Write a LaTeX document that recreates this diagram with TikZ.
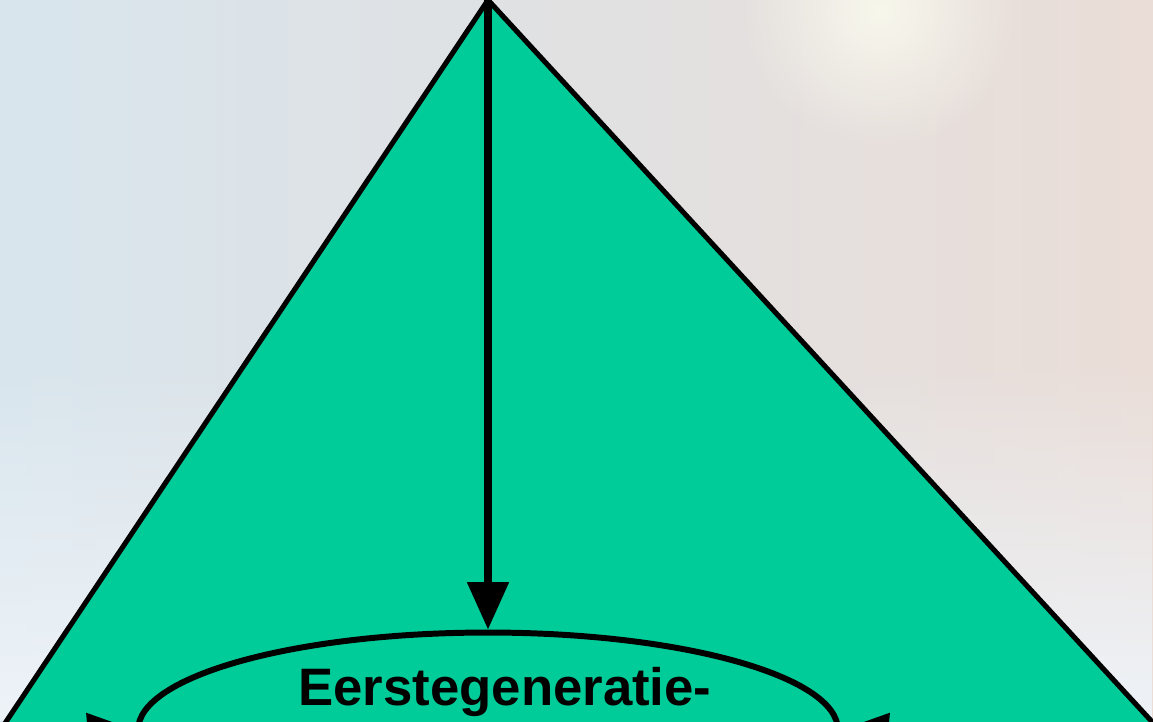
\documentclass[tikz,border=0pt]{standalone}
\usepackage{fontspec}
\setmainfont{Liberation Sans}
\usetikzlibrary{shapes.geometric,arrows.meta,positioning,calc,fadings}
\definecolor{vertPyr}{RGB}{0,204,153}
\definecolor{fondBleu}{RGB}{216,229,237}
\definecolor{fondRose}{RGB}{234,221,215}
\definecolor{fondClair}{RGB}{238,243,248}
\definecolor{halo}{RGB}{250,250,238}
\tikzfading[name=haloFondu, inner color=transparent!0, outer color=transparent!100]

\begin{document}
\begin{tikzpicture}[x=0.02cm, y=-0.02cm,
  pyramide/.style={fill=vertPyr, draw=black, line width=2.9pt},
  cercle/.style={ellipse, draw=black, line width=3.4pt,
                 minimum width=14cm, minimum height=3.9cm, inner sep=0pt},
  etiq/.style={font=\fontsize{30}{34}\selectfont\bfseries, text=black, inner sep=0pt},
  fleche/.style={-{Triangle[length=27pt,width=23pt]}, line width=4pt}]

  \useasboundingbox (0,0) rectangle (1153,721);
  \clip (0,0) rectangle (1153,721);

  % fond
  \shade[left color=fondBleu, right color=fondRose] (0,0) rectangle (1153,721);
  \fill[fondClair, path fading=north] (0,360) rectangle (1153,721);
  \fill[halo, opacity=0.9, path fading=haloFondu] (880,10) circle (140);

  \coordinate (apex) at (488,0);
  \coordinate (baseG) at (-113,900);
  \coordinate (baseD) at (1316,900);
  \draw[pyramide] (apex) -- (baseG) -- (baseD) -- cycle;

  \node[cercle] (gen1) at (488,730) {};
  \node[etiq, anchor=base] (titre) at (505,705) {Eerstegeneratie-};

  \coordinate (srcG) at (-260,762);
  \coordinate (srcD) at (1236,762);
  \draw[fleche] (apex) -- (gen1.north);
  \draw[fleche] (srcG) -- (gen1.west);
  \draw[fleche] (srcD) -- (gen1.east);
\end{tikzpicture}
\end{document}
